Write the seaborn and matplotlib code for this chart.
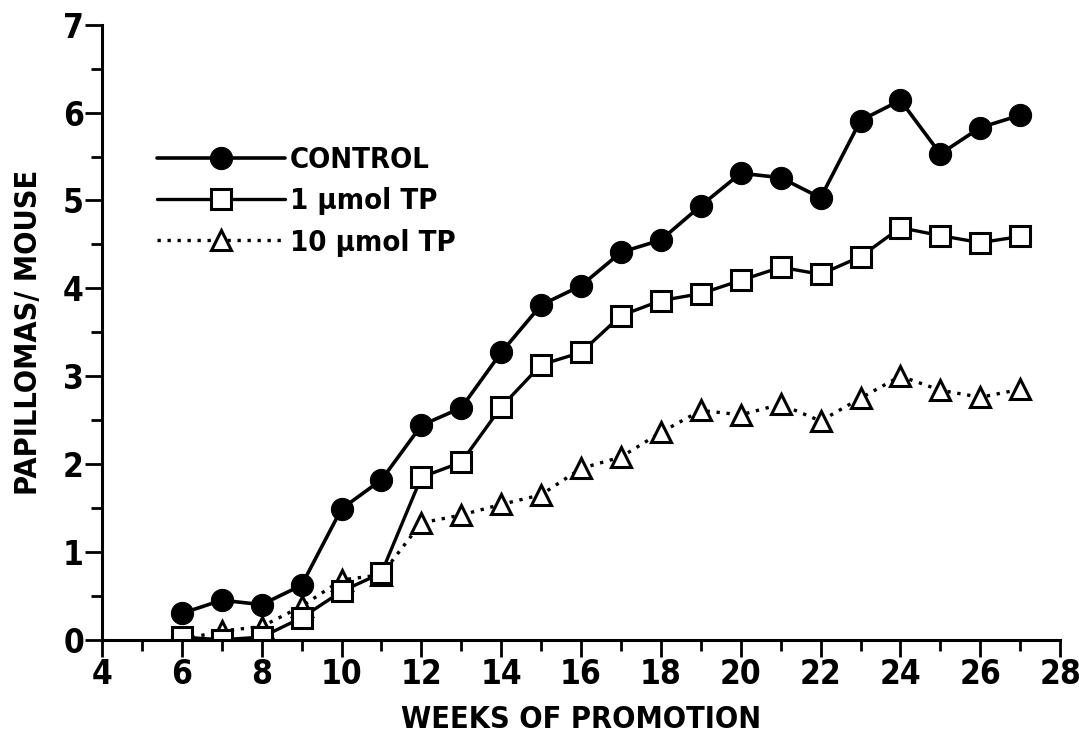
import matplotlib
matplotlib.use("Agg")
import matplotlib.pyplot as plt
from matplotlib.ticker import MultipleLocator
import seaborn as sns
import pandas as pd

weeks = list(range(6, 28))
control = [0.30, 0.45, 0.40, 0.62, 1.49, 1.82, 2.44, 2.64, 3.27, 3.81, 4.03,
           4.41, 4.55, 4.94, 5.31, 5.26, 5.03, 5.91, 6.14, 5.53, 5.83, 5.97]
tp_1 = [0.03, 0.00, 0.03, 0.25, 0.55, 0.76, 1.85, 2.02, 2.65, 3.13, 3.27,
        3.69, 3.86, 3.94, 4.09, 4.24, 4.16, 4.36, 4.69, 4.60, 4.52, 4.59]
tp_10 = [0.00, 0.10, 0.15, 0.38, 0.68, 0.74, 1.33, 1.42, 1.54, 1.65, 1.95,
         2.08, 2.36, 2.61, 2.56, 2.68, 2.49, 2.75, 3.00, 2.84, 2.76, 2.85]
labels = ["CONTROL", "1 \u00b5mol TP", "10 \u00b5mol TP"]

df = pd.DataFrame({"week": weeks, labels[0]: control, labels[1]: tp_1, labels[2]: tp_10})

sns.set_theme(style="ticks", rc={"text.color": "black", "axes.labelcolor": "black",
                                 "xtick.color": "black", "ytick.color": "black",
                                 "axes.edgecolor": "black"})
plt.rcParams["font.family"] = ["DejaVu Sans", "Liberation Sans"]
plt.rcParams["font.stretch"] = "condensed"
plt.rcParams["font.weight"] = "bold"

fig = plt.figure(figsize=(10.79, 7.5), dpi=100)
ax = fig.add_axes([0.0945, 0.147, 0.888, 0.82])

# dotted triangles underneath, then squares, then filled circles on top
sns.lineplot(data=df, x="week", y=labels[2], ax=ax, color="black", linestyle=(0, (1, 2)),
             linewidth=2.4, marker="^", markersize=15, markerfacecolor="white",
             markeredgecolor="black", markeredgewidth=2.2, label=labels[2])
sns.lineplot(data=df, x="week", y=labels[1], ax=ax, color="black", linewidth=2.4,
             marker="s", markersize=14, markerfacecolor="white",
             markeredgecolor="black", markeredgewidth=2.2, label=labels[1])
sns.lineplot(data=df, x="week", y=labels[0], ax=ax, color="black", linewidth=2.6,
             marker="o", markersize=16, markerfacecolor="black",
             markeredgecolor="black", label=labels[0])

ax.set_xlim(4, 28)
ax.set_ylim(0, 7)
ax.xaxis.set_major_locator(MultipleLocator(2))
ax.xaxis.set_minor_locator(MultipleLocator(1))
ax.yaxis.set_major_locator(MultipleLocator(1))
ax.yaxis.set_minor_locator(MultipleLocator(0.5))
ax.tick_params(axis="both", which="major", length=12, width=2, labelsize=24, pad=1)
ax.tick_params(axis="both", which="minor", length=8, width=2)
for s in ["top", "right"]:
    ax.spines[s].set_visible(False)
for s in ["left", "bottom"]:
    ax.spines[s].set_linewidth(2.2)

ax.set_xlabel("WEEKS OF PROMOTION", fontsize=22, fontweight="bold", labelpad=10)
ax.set_ylabel("PAPILLOMAS/ MOUSE", fontsize=22, fontweight="bold", labelpad=14)

handles, lbls = ax.get_legend_handles_labels()
order = [lbls.index(l) for l in labels]
ax.legend([handles[i] for i in order], [lbls[i] for i in order],
          loc="upper left", bbox_to_anchor=(0.03, 0.845), frameon=False,
          fontsize=21, handlelength=4.4, labelspacing=0.45, handletextpad=0.15)

fig.savefig("out.png", dpi=100)
